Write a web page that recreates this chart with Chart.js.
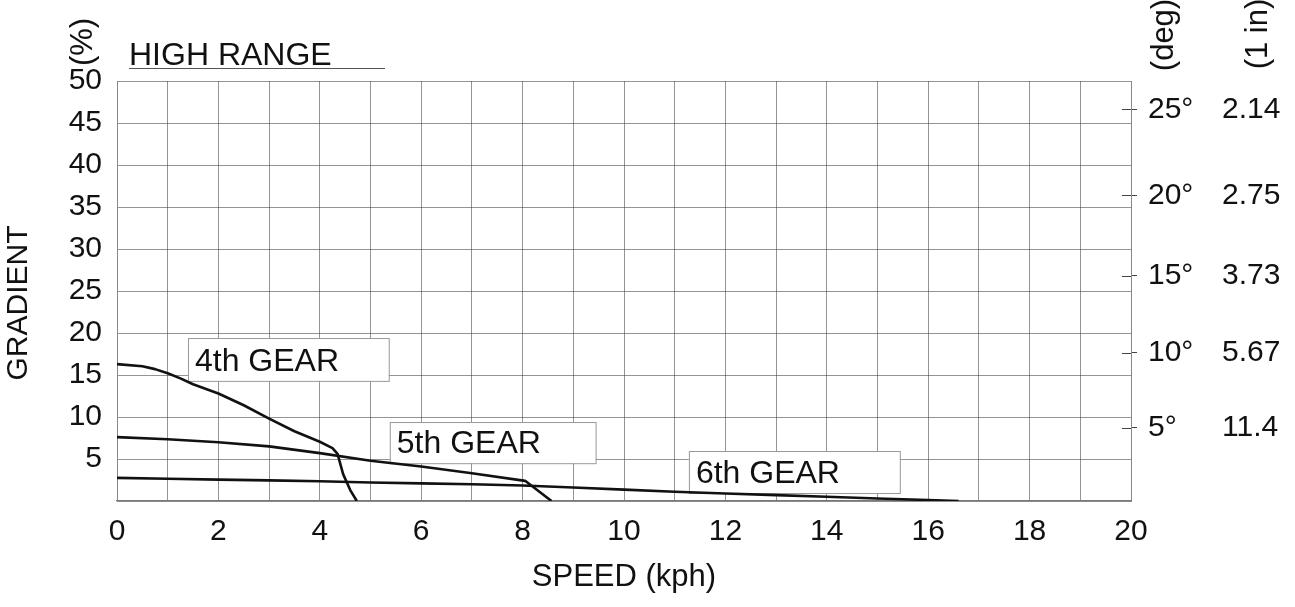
<!DOCTYPE html>
<html><head><meta charset="utf-8">
<script src="https://cdn.jsdelivr.net/npm/chart.js@4.4.1/dist/chart.umd.min.js"></script>
<style>html,body{margin:0;padding:0;background:#fff}#wrap{width:1295px;height:607px;position:relative}</style>
</head><body><div id="wrap"><canvas id="c"></canvas></div>
<script>
// ---- data ----
const gear4Speed = [0, 0.5, 0.75, 1, 1.25, 1.5, 2, 2.5, 3, 3.5, 4, 4.25, 4.35, 4.46, 4.6, 4.73];
const gear4Grad  = [16.3, 16.05, 15.7, 15.2, 14.6, 13.9, 12.8, 11.4, 9.8, 8.3, 7.05, 6.3, 5.6, 3.2, 1.3, 0];
const gear5Speed = [0, 1, 2, 3, 4, 5, 6, 7, 8.05, 8.57];
const gear5Grad  = [7.6, 7.35, 7.0, 6.5, 5.7, 4.8, 4.1, 3.3, 2.4, 0];
const gear6Speed = [0, 1, 2, 3, 4, 5, 6, 7, 8, 9, 10, 11, 12, 13, 14, 15, 16, 16.6];
const gear6Grad  = [2.75, 2.65, 2.55, 2.45, 2.35, 2.2, 2.1, 2.0, 1.85, 1.6, 1.35, 1.1, 0.9, 0.7, 0.5, 0.3, 0.12, 0];

const xTickLabels = ['0','','2','','4','','6','','8','','10','','12','','14','','16','','18','','20'];
const yTickLabels = ['','5','10','15','20','25','30','35','40','45','50'];
const degTicks = [5, 10, 15, 20, 25];
const degLabels = ['5°','10°','15°','20°','25°'];
const inLabels = ['11.4','5.67','3.73','2.75','2.14'];

const gearLabels = ['4th GEAR', '5th GEAR', '6th GEAR'];
const boxSpeedFrom = [1.40, 5.38, 11.28];
const boxSpeedTo   = [5.36, 9.44, 15.44];
const boxGradTop   = [19.4, 9.4, 5.95];
const boxGradBot   = [14.3, 4.5, 0.95];

// ---- chart ----
const FONT = "'Liberation Sans', Arial, Helvetica, sans-serif";
const toPts = (xs, ys) => xs.map((x, i) => ({x, y: ys[i]}));
const lineDs = (label, xs, ys) => ({
  label, data: toPts(xs, ys), borderColor: '#111', borderWidth: 2.6,
  pointRadius: 0, tension: 0, borderJoinStyle: 'round', fill: false
});
const gridColor = 'rgba(60,60,60,0.55)';

const overlay = {
  id: 'overlay',
  beforeDatasetsDraw(chart) {
    const {ctx, scales: {x, y}} = chart;
    ctx.save();
    ctx.font = `32px ${FONT}`;
    ctx.textBaseline = 'alphabetic';
    gearLabels.forEach((t, i) => {
      const l = x.getPixelForValue(boxSpeedFrom[i]), r = x.getPixelForValue(boxSpeedTo[i]);
      const tp = y.getPixelForValue(boxGradTop[i]), b = y.getPixelForValue(boxGradBot[i]);
      ctx.fillStyle = '#fff';
      ctx.fillRect(l, tp, r - l, b - tp);
      ctx.strokeStyle = '#999';
      ctx.lineWidth = 1;
      ctx.strokeRect(l + 0.5, tp + 0.5, r - l, b - tp);
      ctx.fillStyle = '#111';
      ctx.fillText(t, l + 7, b - 10);
    });
    ctx.restore();
  },
  afterDraw(chart) {
    const {ctx, chartArea: ca, scales: {y2, y3}} = chart;
    ctx.save();
    // inward stubs of right ticks
    ctx.strokeStyle = '#444'; ctx.lineWidth = 1;
    y2.ticks.forEach(tk => {
      const py = Math.round(y2.getPixelForValue(tk.value)) + 0.5;
      ctx.beginPath(); ctx.moveTo(ca.right - 9, py); ctx.lineTo(ca.right, py); ctx.stroke();
    });
    // HIGH RANGE
    ctx.fillStyle = '#111';
    ctx.font = `32px ${FONT}`;
    ctx.textBaseline = 'alphabetic';
    ctx.fillText('HIGH RANGE', ca.left + 12, ca.top - 16);
    ctx.strokeStyle = '#555'; ctx.lineWidth = 1.2;
    ctx.beginPath(); ctx.moveTo(ca.left + 12, ca.top - 12.5); ctx.lineTo(ca.left + 268, ca.top - 12.5); ctx.stroke();
    // rotated titles
    const rot = (txt, cx, cy) => {
      ctx.save(); ctx.translate(cx, cy); ctx.rotate(-Math.PI / 2);
      ctx.textAlign = 'center'; ctx.textBaseline = 'middle';
      ctx.fillText(txt, 0, 0); ctx.restore();
    };
    ctx.font = `30px ${FONT}`;
    rot('GRADIENT', 19, 303);
    ctx.font = `31px ${FONT}`;
    rot('(%)', ca.left - 34, 42);
    rot('(deg)', y2.left + 33, 35);
    rot('(1 in)', y3.left + 54, 34);
    ctx.restore();
  }
};

new Chart(document.getElementById('c'), {
  type: 'line',
  data: { datasets: [
    lineDs('4th GEAR', gear4Speed, gear4Grad),
    lineDs('5th GEAR', gear5Speed, gear5Grad),
    lineDs('6th GEAR', gear6Speed, gear6Grad)
  ]},
  options: {
    responsive: true, maintainAspectRatio: false, animation: false,
    devicePixelRatio: 1,
    layout: { padding: { top: 81, left: 0, right: 0, bottom: 0 } },
    plugins: { legend: { display: false }, tooltip: { enabled: false }, title: { display: false } },
    scales: {
      x: {
        type: 'linear', min: 0, max: 20,
        afterFit: s => { s.height = 106; },
        ticks: { stepSize: 1, autoSkip: false, maxRotation: 0, padding: 13, color: '#111',
          font: { family: FONT, size: 30 }, callback: (v, i) => xTickLabels[i] },
        grid: { color: gridColor, lineWidth: 1, drawTicks: false },
        border: { color: '#777', width: 1.2 },
        title: { display: true, text: 'SPEED (kph)', color: '#111', font: { family: FONT, size: 31 }, padding: { top: 0, bottom: 11 } }
      },
      y: {
        type: 'linear', min: 0, max: 50, position: 'left',
        afterFit: s => { s.width = 117; },
        ticks: { stepSize: 5, autoSkip: false, padding: 15, color: '#111',
          font: { family: FONT, size: 30 }, callback: (v, i) => yTickLabels[i] },
        grid: { color: gridColor, lineWidth: 1, drawTicks: false },
        border: { color: '#888', width: 1 }
      },
      y2: {
        type: 'linear', min: 0, max: 50, position: 'right', weight: 1,
        afterFit: s => { s.width = 73; },
        afterBuildTicks: s => { s.ticks = degTicks.map(d => ({ value: Math.tan(d * Math.PI / 180) * 100 })); },
        ticks: { autoSkip: false, padding: 11, color: '#111', font: { family: FONT, size: 30 },
          callback: (v, i) => degLabels[i] },
        grid: { drawOnChartArea: false, drawTicks: true, tickLength: 6, color: '#444' },
        border: { color: '#888', width: 1 }
      },
      y3: {
        type: 'linear', min: 0, max: 50, position: 'right', weight: 2,
        afterFit: s => { s.width = 91; },
        afterBuildTicks: s => { s.ticks = degTicks.map(d => ({ value: Math.tan(d * Math.PI / 180) * 100 })); },
        ticks: { autoSkip: false, padding: 18, color: '#111', font: { family: FONT, size: 30 },
          callback: (v, i) => inLabels[i] },
        grid: { display: false, drawTicks: false },
        border: { display: false }
      }
    }
  },
  plugins: [overlay]
});
</script></body></html>
